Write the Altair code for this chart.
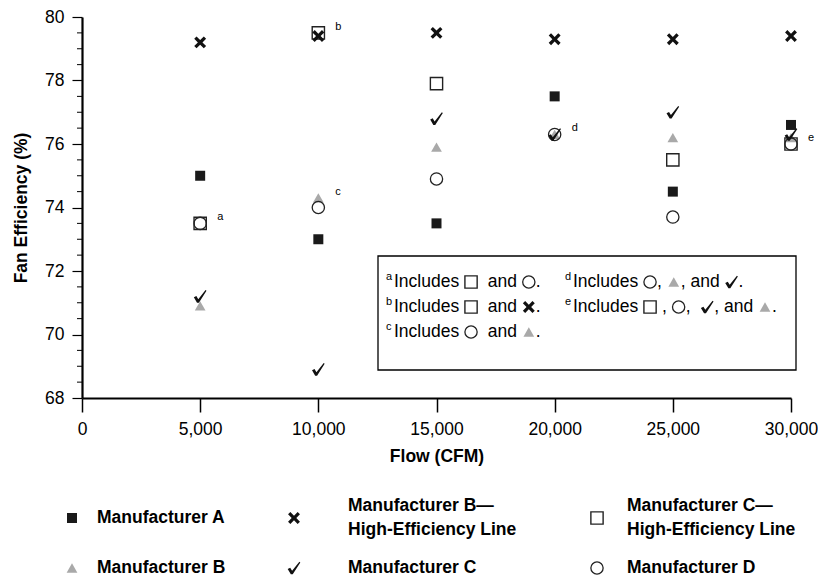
import altair as alt
import pandas as pd

# ---------------- data ----------------
flows = [5000, 10000, 15000, 20000, 25000, 30000]
mfr_a = [75.0, 73.0, 73.5, 77.5, 74.5, 76.6]
mfr_b_he = [79.2, 79.4, 79.5, 79.3, 79.3, 79.4]
mfr_c_he = [73.5, 79.5, 77.9, None, 75.5, 76.0]
mfr_b = [70.9, 74.3, 75.9, 76.3, 76.2, 76.2]
mfr_c = [71.2, 68.9, 76.8, 76.3, 77.0, 76.3]
mfr_d = [73.5, 74.0, 74.9, 76.3, 73.7, 76.0]

series_keys = ["A", "BHE", "CHE", "B", "C", "D"]
series_values = [mfr_a, mfr_b_he, mfr_c_he, mfr_b, mfr_c, mfr_d]
legend_labels = [
    ["Manufacturer A"],
    ["Manufacturer B\u2014", "High-Efficiency Line"],
    ["Manufacturer C\u2014", "High-Efficiency Line"],
    ["Manufacturer B"],
    ["Manufacturer C"],
    ["Manufacturer D"],
]

note_letters = ["a", "b", "c", "d", "e"]
note_flow = [5000, 10000, 10000, 20000, 30000]
note_eff = [73.5, 79.5, 74.3, 76.3, 76.0]

# footnote lines: superscript letter, then tokens (text or glyph key)
footnotes = [
    ("a", ["Includes ", "@CHE", "  and ", "@D", "."]),
    ("b", ["Includes ", "@CHE", "  and ", "@BHE", "."]),
    ("c", ["Includes ", "@D", "  and ", "@B", "."]),
    ("d", ["Includes ", "@D", ", ", "@B", ", and ", "@C", "."]),
    ("e", ["Includes ", "@CHE", " , ", "@D", ",  ", "@C", ", and ", "@B", "."]),
]

x_ticks = [0, 5000, 10000, 15000, 20000, 25000, 30000]
y_ticks = [68, 70, 72, 74, 76, 78, 80]
y_minor = [68.5, 69, 69.5, 70.5, 71, 71.5, 72.5, 73, 73.5, 74.5, 75, 75.5,
           76.5, 77, 77.5, 78.5, 79, 79.5]

# ---------------- layout helpers (pixel -> data units) ----------------
PW, PH = 709, 381
OX, OY = 82, 15
XMAX, YMIN, YMAX = 30000, 68, 80


def fx(px):
    return (px - OX) / PW * XMAX


def fy(py):
    return YMAX - (py - OY) / PH * (YMAX - YMIN)


FONT = "Liberation Sans, Arial, sans-serif"
TICK_FS, TITLE_FS, LEG_FS, FOOT_FS = 17.5, 17.5, 17.5, 17.5

# Arial/Liberation Sans advance widths (per 1000 em) for footnote layout
ARIAL_W = {" ": 278, ",": 278, ".": 278, "I": 278, "n": 556, "c": 500, "l": 222,
           "u": 556, "d": 556, "e": 556, "s": 500, "a": 556}


def text_w(s, fs):
    return sum(ARIAL_W.get(ch, 556) for ch in s) * fs / 1000.0


X_PATH = ("M-0.9,-0.55 L-0.55,-0.9 L0,-0.35 L0.55,-0.9 L0.9,-0.55 L0.35,0 "
          "L0.9,0.55 L0.55,0.9 L0,0.35 L-0.55,0.9 L-0.9,0.55 L-0.35,0 Z")
CHECK_PATH = ("M-1,0.15 L-0.6,-0.05 L-0.3,0.45 L0.85,-1 L1,-0.88 "
              "L-0.2,1 L-0.5,1 Z")

styles = {
    "A": dict(shape="square", filled=True, color="#1a1a1a", size=100),
    "BHE": dict(shape=X_PATH, filled=True, color="#111111", size=175),
    "CHE": dict(shape="square", filled=False, color="#222222", size=150, strokeWidth=1.4),
    "B": dict(shape="triangle-up", filled=True, color="#a9a9a9", size=115),
    "C": dict(shape=CHECK_PATH, filled=True, color="#111111", size=160),
    "D": dict(shape="circle", filled=False, color="#222222", size=150, strokeWidth=1.3),
}

rows = []
for key, vals in zip(series_keys, series_values):
    for f, v in zip(flows, vals):
        if v is not None:
            rows.append({"series": key, "flow": f, "eff": v})
points = pd.DataFrame(rows)

# ---- footnote box layout (reference pixels) ----
BOX = (378, 796, 254, 368)
foot_pos = [(394, 280), (394, 305), (394, 330), (573, 280), (573, 305)]
GLYPH_SLOT = 14

foot_glyphs, foot_text, foot_sup = [], [], []
for (letter, tokens), (x0, y0) in zip(footnotes, foot_pos):
    foot_sup.append((x0 - 8, y0 - 5, letter))
    x = x0
    for tok in tokens:
        if tok.startswith("@"):
            foot_glyphs.append((tok[1:], x + GLYPH_SLOT / 2, y0))
            x += GLYPH_SLOT
        else:
            lead = tok[: len(tok) - len(tok.lstrip())]
            foot_text.append((x + text_w(lead, FOOT_FS), y0, tok.strip()))
            x += text_w(tok, FOOT_FS)

# ---- bottom legend layout (reference pixels) ----
leg_cols = [72, 294, 597]
leg_text_cols = [97, 348, 627]
leg_rows = [516, 566]

leg_glyphs, leg_text = [], []
for i, key in enumerate(series_keys):
    c, r = i % 3, i // 3
    leg_glyphs.append((key, leg_cols[c], leg_rows[r]))
    lines = legend_labels[i]
    if len(lines) == 1:
        leg_text.append((leg_text_cols[c], leg_rows[r], lines[0]))
    else:
        leg_text.append((leg_text_cols[c], leg_rows[r] - 12, lines[0]))
        leg_text.append((leg_text_cols[c], leg_rows[r] + 12, lines[1]))

glyph_df = pd.DataFrame(
    [{"series": k, "flow": fx(px), "eff": fy(py)} for k, px, py in foot_glyphs + leg_glyphs]
)
foot_text_df = pd.DataFrame([{"flow": fx(px), "eff": fy(py), "t": t} for px, py, t in foot_text])
foot_sup_df = pd.DataFrame([{"flow": fx(px), "eff": fy(py), "t": t} for px, py, t in foot_sup])
leg_text_df = pd.DataFrame([{"flow": fx(px), "eff": fy(py), "t": t} for px, py, t in leg_text])
notes_df = pd.DataFrame({"flow": note_flow, "eff": note_eff, "t": note_letters})
minor_df = pd.DataFrame({"v": y_minor})
box_df = pd.DataFrame({"x1": [fx(BOX[0])], "x2": [fx(BOX[1])],
                       "y1": [fy(BOX[2])], "y2": [fy(BOX[3])]})

xscale = alt.Scale(domain=[0, XMAX], nice=False, zero=False)
yscale = alt.Scale(domain=[YMIN, YMAX], nice=False, zero=False)

x_axis = alt.Axis(values=x_ticks, format=",d", title="Flow (CFM)", grid=False,
                  tickSize=14, tickWidth=1.5, tickColor="black", domainWidth=2.2,
                  domainColor="black", labelFontSize=TICK_FS, labelPadding=8,
                  labelFont=FONT, labelColor="black", titleFont=FONT, titleFontSize=TITLE_FS,
                  titleFontWeight="bold", titleColor="black", titlePadding=10,
                  labelFlush=False)
y_axis = alt.Axis(values=y_ticks, title="Fan Efficiency (%)", grid=False,
                  tickSize=10, tickWidth=1.2, tickColor="black", domainWidth=2.2,
                  domainColor="black", labelFontSize=TICK_FS, labelPadding=8,
                  labelFont=FONT, labelColor="black", titleFont=FONT, titleFontSize=TITLE_FS,
                  titleFontWeight="bold", titleColor="black", titlePadding=14)

axes_layer = alt.Chart(points).mark_point(opacity=0).encode(
    x=alt.X("flow:Q", scale=xscale, axis=x_axis),
    y=alt.Y("eff:Q", scale=yscale, axis=y_axis),
)

minor_ticks = alt.Chart(minor_df).mark_rule(color="black", strokeWidth=1).encode(
    y=alt.Y("v:Q", scale=yscale), x=alt.value(-5), x2=alt.value(0)
)


def point_layer(df, key):
    s = styles[key]
    kw = dict(shape=s["shape"], filled=s["filled"], size=s["size"], opacity=1)
    if s["filled"]:
        kw.update(fill=s["color"], strokeWidth=0)
    else:
        kw.update(stroke=s["color"], fill="transparent", strokeWidth=s["strokeWidth"])
    return alt.Chart(df).mark_point(**kw).encode(
        x=alt.X("flow:Q", scale=xscale),
        y=alt.Y("eff:Q", scale=yscale),
    ).transform_filter(alt.datum.series == key)


box = alt.Chart(box_df).mark_rect(fill="white", stroke="black", strokeWidth=1.3).encode(
    x=alt.X("x1:Q", scale=xscale), x2="x2:Q",
    y=alt.Y("y1:Q", scale=yscale), y2="y2:Q",
)

text_common = dict(font=FONT, color="black", align="left", baseline="middle")
xy = dict(x=alt.X("flow:Q", scale=xscale), y=alt.Y("eff:Q", scale=yscale), text="t:N")

foot_text_layer = alt.Chart(foot_text_df).mark_text(fontSize=FOOT_FS, **text_common).encode(**xy)
foot_sup_layer = alt.Chart(foot_sup_df).mark_text(fontSize=11, **text_common).encode(**xy)
leg_text_layer = alt.Chart(leg_text_df).mark_text(
    fontSize=LEG_FS, fontWeight="bold", **text_common).encode(**xy)
notes_layer = alt.Chart(notes_df).mark_text(fontSize=11, dx=17, dy=-6, **text_common).encode(**xy)

layers = [axes_layer, minor_ticks]
for k in ["A", "B", "D", "CHE", "BHE", "C"]:
    layers.append(point_layer(points, k))
layers += [notes_layer, box, foot_text_layer, foot_sup_layer]
for k in series_keys:
    layers.append(point_layer(glyph_df, k))
layers.append(leg_text_layer)

chart = alt.layer(*layers).properties(
    width=PW, height=PH,
    padding={"left": 4, "top": 0, "right": 0, "bottom": 0},
    background="white",
).configure_view(stroke=None)

chart.save("out.html", embed_options={"renderer": "svg", "actions": False})
